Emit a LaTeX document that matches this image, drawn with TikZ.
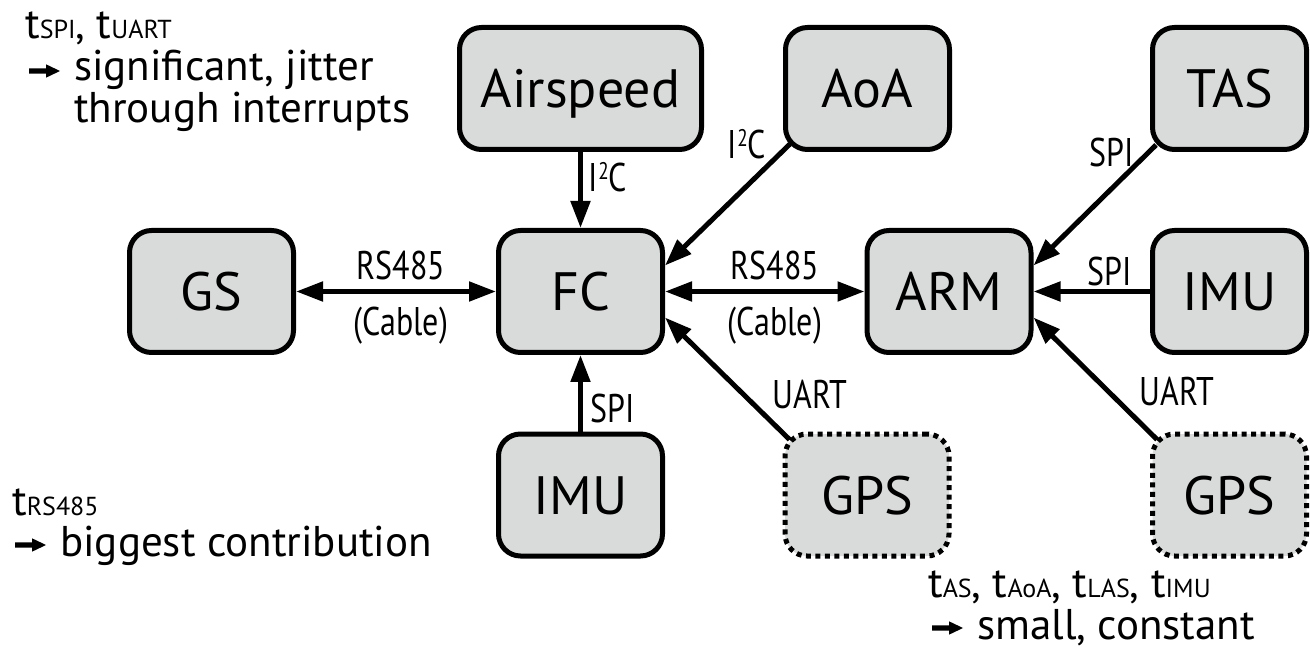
\documentclass[tikz,border=0pt]{standalone}
\usepackage{fontspec}
\setmainfont{PT Sans}
\newfontfamily\condfont[FakeStretch=0.8]{PT Sans}
\usetikzlibrary{arrows.meta}
\definecolor{boxfill}{RGB}{217,219,219}
\newcommand{\sbs}[1]{{\fontsize{26}{28}\selectfont #1}}
\newcommand{\iic}{I\raisebox{12pt}{\fontsize{24}{24}\selectfont 2}C}
\tikzset{
  box/.style={draw=black, fill=boxfill, line width=5pt, rounded corners=22pt,
    minimum height=122pt, minimum width=164pt, inner sep=0pt,
    text height=38pt, text depth=0pt, font=\fontsize{54}{60}\selectfont},
  optbox/.style={box, dash pattern=on 5pt off 4.5pt},
  tip/.tip={Triangle[length=27pt,width=19pt]},
  conn/.style={line width=5pt, -tip},
  biconn/.style={line width=5pt, tip-tip},
  lbl/.style={font=\condfont\fontsize{40}{44}\selectfont, inner sep=0pt,
    text height=28pt, text depth=0pt},
  note/.style={font=\fontsize{43}{40}\selectfont, inner sep=0pt, anchor=base west,
    text height=30pt, text depth=0pt},
  bullarrow/.style={fill=black},
}
% small heavy arrow used in the notes; #1 = left end, vertical centre
\newcommand{\notearrow}[1]{\fill[bullarrow] #1 ++(0,-2.7) -- ++(17,0) -- ++(0,-4) -- ++(14,6.7) -- ++(-14,6.7) -- ++(0,-4) -- ++(-17,0) -- cycle;}
\begin{document}
\begin{tikzpicture}[x=1pt,y=-1pt]
\useasboundingbox (0,0) rectangle (1310,652);
% boxes
\node[box, minimum width=242pt] (AS) at (580.5,88.5) {Airspeed};
\node[box] (AoA) at (867.5,88.5) {AoA};
\node[box, minimum width=154pt] (TAS) at (1229.5,88.5) {TAS};
\node[box] (GS) at (211.5,291.5) {GS};
\node[box] (FC) at (580.5,291.5) {FC};
\node[box] (ARM) at (949,291.5) {ARM};
\node[box, minimum width=154pt] (IMUr) at (1229.5,291.5) {IMU};
\node[box] (IMUb) at (580.5,495) {IMU};
\node[optbox] (GPSm) at (867,495) {GPS};
\node[optbox, minimum width=154pt] (GPSr) at (1229.5,495) {GPS};
% connectors
\draw[conn] (AS.south) -- (FC.north);
\draw[conn] (IMUb.north) -- (FC.south);
\draw[biconn] (GS.east) -- (FC.west);
\draw[biconn] (FC.east) -- (ARM.west);
\draw[conn] (IMUr.west) -- (ARM.east);
\draw[conn] ([shift={(7,-8)}]AoA.south west) -- ([shift={(0,-26)}]FC.east);
\draw[conn] ([shift={(6,-7)}]TAS.south west) -- ([shift={(0,-26)}]ARM.east);
\draw[conn] ([shift={(7,8)}]GPSm.north west) -- ([shift={(0,26)}]FC.east);
\draw[conn] ([shift={(7,8)}]GPSr.north west) -- ([shift={(0,26)}]ARM.east);
% connector labels
\node[lbl] (l1) at (608,178) {\iic};
\node[lbl] (l2) at (747,145) {\iic};
\node[lbl] (l3) at (1112,153) {SPI};
\node[lbl] (l4) at (401,266) {RS485};
\node[lbl] (l5) at (401,322) {(Cable)};
\node[lbl] (l6) at (775,266) {RS485};
\node[lbl] (l7) at (775,322) {(Cable)};
\node[lbl] (l8) at (1110,272) {SPI};
\node[lbl] (l9) at (613,408) {SPI};
\node[lbl] (l10) at (810,395) {UART};
\node[lbl] (l11) at (1177,392) {UART};
% notes
\node[note] (tl1) at (25,39) {t\sbs{SPI}, t\sbs{UART}};
\notearrow{(29,71)}
\node[note] (tl2) at (74,81) {significant, jitter};
\node[note] (tl3) at (74,123) {through interrupts};
\node[note] (bl1) at (12,515) {t\sbs{RS485}};
\notearrow{(15,545)}
\node[note] (bl2) at (60,556) {biggest contribution};
\node[note] (br1) at (928,597) {t\sbs{AS}, t\sbs{AoA}, t\sbs{LAS}, t\sbs{IMU}};
\notearrow{(932,628)}
\node[note] (br2) at (977,639) {small, constant};
\end{tikzpicture}
\end{document}
